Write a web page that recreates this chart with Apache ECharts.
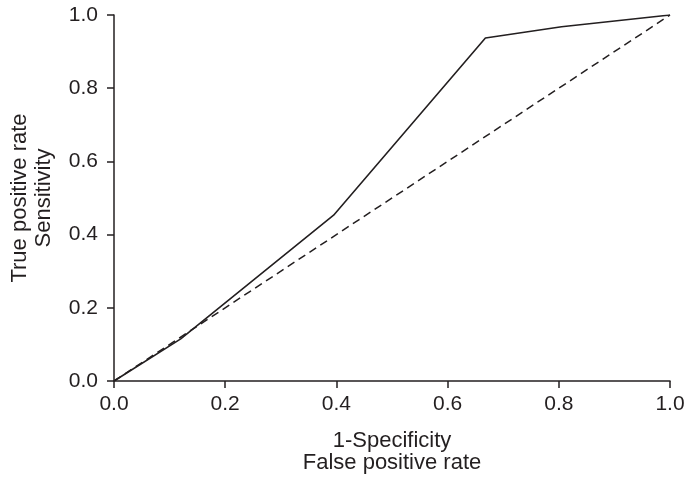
<!DOCTYPE html>
<html>
<head>
<meta charset="utf-8">
<script src="https://cdn.jsdelivr.net/npm/echarts@6/dist/echarts.min.js"></script>
<style>
  html, body { margin: 0; padding: 0; background: #fff; }
  #chart { width: 693px; height: 485px; }
</style>
</head>
<body>
<div id="chart"></div>
<script>
// ROC curve points (false positive rate, true positive rate)
const rocFpr = [0.0, 0.12, 0.395, 0.668, 0.805, 1.0]
const rocTpr = [0.0, 0.115, 0.453, 0.937, 0.968, 1.0]
// chance line
const refFpr = [0.0, 1.0]
const refTpr = [0.0, 1.0]

const ink = '#231f20'
const font = 'Liberation Sans, Arial, sans-serif'

const chart = echarts.init(document.getElementById('chart'))

const axisCommon = {
  type: 'value',
  min: 0,
  max: 1,
  interval: 0.2,
  nameLocation: 'middle',
  axisLine: { show: true, lineStyle: { color: ink, width: 1.5 } },
  axisTick: { show: true, inside: false, length: 7, lineStyle: { color: ink, width: 1.5 } },
  axisLabel: {
    color: ink,
    fontSize: 21,
    fontFamily: font,
    formatter: v => v.toFixed(1)
  },
  splitLine: { show: false }
}

const option = {
  animation: false,
  backgroundColor: '#fff',
  grid: { left: 110, right: 23, top: 15, bottom: 104, containLabel: false },
  xAxis: Object.assign({}, axisCommon, {
    name: '1-Specificity\nFalse positive rate',
    nameGap: 49,
    nameTextStyle: { color: ink, fontSize: 22, fontFamily: font, lineHeight: 22 },
    axisLabel: Object.assign({}, axisCommon.axisLabel, { margin: 13 })
  }),
  yAxis: Object.assign({}, axisCommon, {
    name: 'True positive rate\nSensitivity',
    nameGap: 58,
    nameTextStyle: { color: ink, fontSize: 22, fontFamily: font, lineHeight: 24 },
    axisLabel: Object.assign({}, axisCommon.axisLabel, { margin: 16 })
  }),
  series: [
    {
      type: 'line',
      data: refFpr.map((x, i) => [x, refTpr[i]]),
      symbol: 'none',
      lineStyle: { color: ink, width: 1.5, type: [8, 5] },
      z: 2
    },
    {
      type: 'line',
      data: rocFpr.map((x, i) => [x, rocTpr[i]]),
      symbol: 'none',
      lineStyle: { color: ink, width: 1.6 },
      z: 3
    }
  ]
}

chart.setOption(option)
</script>
</body>
</html>
